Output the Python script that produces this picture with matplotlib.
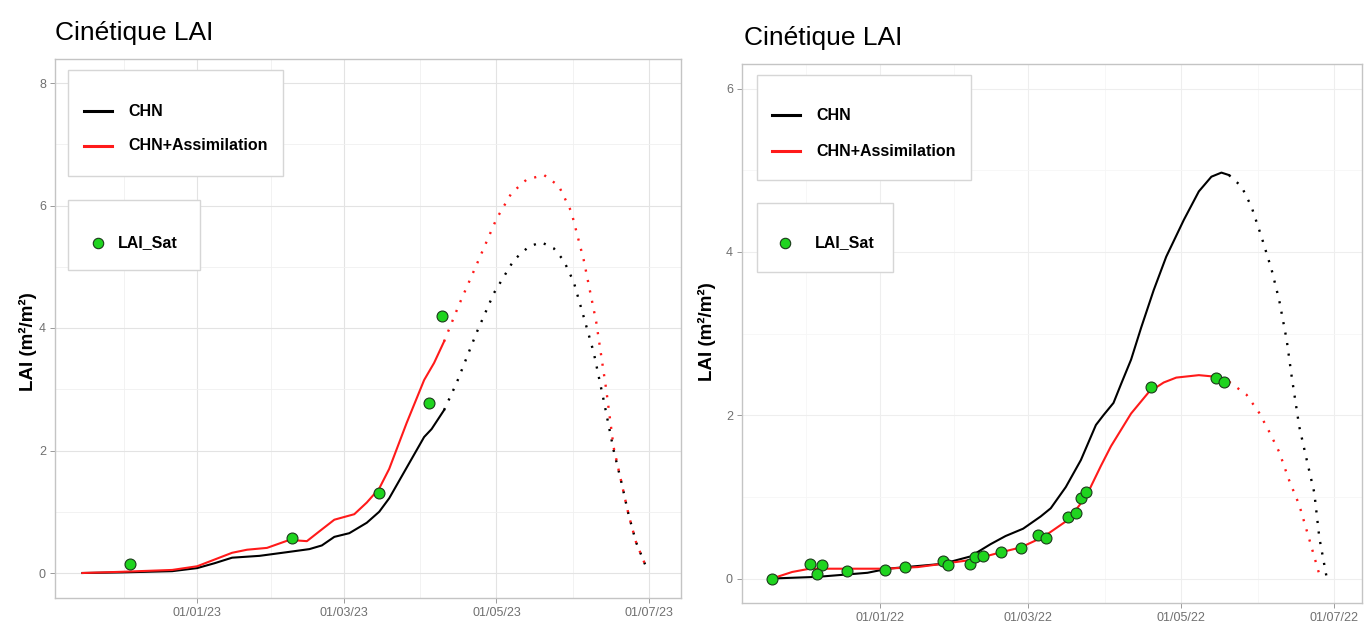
import matplotlib
matplotlib.use("Agg")
import matplotlib.pyplot as plt
from matplotlib.patches import Rectangle
from matplotlib.lines import Line2D
import pandas as pd

plt.rcParams['font.family'] = ['Liberation Sans', 'DejaVu Sans']

# ---------------- 2022-2023 season ----------------
chn_23_dates = ["2022-11-16", "2022-12-02", "2022-12-22", "2023-01-01", "2023-01-08",
                "2023-01-15", "2023-01-26", "2023-02-06", "2023-02-15", "2023-02-20",
                "2023-02-25", "2023-03-03", "2023-03-10", "2023-03-15", "2023-03-19",
                "2023-03-26", "2023-04-02", "2023-04-05", "2023-04-10"]
chn_23_vals = [0.00, 0.01, 0.03, 0.08, 0.16, 0.25, 0.28, 0.34, 0.39, 0.45,
               0.59, 0.65, 0.82, 1.00, 1.22, 1.72, 2.22, 2.35, 2.66]

chn_23_fc_dates = ["2023-04-10", "2023-04-15", "2023-04-23", "2023-04-30", "2023-05-08",
                   "2023-05-14", "2023-05-19", "2023-05-24", "2023-05-28", "2023-06-01",
                   "2023-06-05", "2023-06-09", "2023-06-13", "2023-06-17", "2023-06-20",
                   "2023-06-23", "2023-06-26", "2023-06-30"]
chn_23_fc_vals = [2.66, 3.10, 3.92, 4.57, 5.11, 5.33, 5.40, 5.30, 5.10, 4.75,
                  4.18, 3.60, 2.82, 2.00, 1.50, 0.95, 0.50, 0.10]

ass_23_dates = ["2022-11-16", "2022-12-02", "2022-12-22", "2023-01-01", "2023-01-08",
                "2023-01-15", "2023-01-21", "2023-01-29", "2023-02-07", "2023-02-14",
                "2023-02-19", "2023-02-25", "2023-03-05", "2023-03-10", "2023-03-15",
                "2023-03-19", "2023-03-26", "2023-04-02", "2023-04-06", "2023-04-10"]
ass_23_vals = [0.00, 0.02, 0.05, 0.11, 0.22, 0.33, 0.38, 0.41, 0.54, 0.52,
               0.68, 0.87, 0.96, 1.15, 1.38, 1.70, 2.45, 3.15, 3.43, 3.78]

ass_23_fc_dates = ["2023-04-10", "2023-04-16", "2023-04-23", "2023-05-01", "2023-05-07",
                   "2023-05-13", "2023-05-20", "2023-05-26", "2023-05-31", "2023-06-05",
                   "2023-06-10", "2023-06-14", "2023-06-17", "2023-06-20", "2023-06-23",
                   "2023-06-26", "2023-06-30"]
ass_23_fc_vals = [3.78, 4.38, 5.03, 5.78, 6.20, 6.42, 6.50, 6.32, 5.90, 5.11,
                  4.10, 3.00, 2.05, 1.50, 0.95, 0.50, 0.10]

sat_23_dates = ["2022-12-05", "2023-02-08", "2023-03-15", "2023-04-04", "2023-04-09"]
sat_23_vals = [0.14, 0.57, 1.30, 2.78, 4.20]

ticks_23 = ["2023-01-01", "2023-03-01", "2023-05-01", "2023-07-01"]
labels_23 = ["01/01/23", "01/03/23", "01/05/23", "01/07/23"]

# ---------------- 2021-2022 season ----------------
chn_22_dates = ["2021-11-19", "2021-12-07", "2021-12-27", "2022-01-04", "2022-01-26",
                "2022-02-06", "2022-02-14", "2022-02-20", "2022-02-27", "2022-03-06",
                "2022-03-10", "2022-03-16", "2022-03-22", "2022-03-28", "2022-03-31",
                "2022-04-04", "2022-04-07", "2022-04-11", "2022-04-15", "2022-04-20",
                "2022-04-25", "2022-05-02", "2022-05-08", "2022-05-13", "2022-05-17",
                "2022-05-20"]
chn_22_vals = [0.00, 0.02, 0.07, 0.12, 0.18, 0.27, 0.42, 0.52, 0.61, 0.76,
               0.86, 1.12, 1.45, 1.88, 2.00, 2.15, 2.38, 2.68, 3.07, 3.53,
               3.94, 4.39, 4.74, 4.92, 4.97, 4.94]

chn_22_fc_dates = ["2022-05-20", "2022-05-25", "2022-05-29", "2022-06-02", "2022-06-06",
                   "2022-06-09", "2022-06-12", "2022-06-14", "2022-06-17", "2022-06-20",
                   "2022-06-23", "2022-06-25", "2022-06-28"]
chn_22_fc_vals = [4.94, 4.80, 4.55, 4.18, 3.78, 3.41, 2.92, 2.47, 1.86, 1.45,
                  1.05, 0.50, 0.00]

ass_22_dates = ["2021-11-19", "2021-11-27", "2021-12-04", "2021-12-19", "2022-01-03",
                "2022-01-16", "2022-01-26", "2022-02-07", "2022-02-18", "2022-02-26",
                "2022-03-05", "2022-03-09", "2022-03-17", "2022-03-24", "2022-03-30",
                "2022-04-03", "2022-04-11", "2022-04-18", "2022-04-24", "2022-04-29",
                "2022-05-08", "2022-05-15", "2022-05-20"]
ass_22_vals = [0.00, 0.08, 0.12, 0.12, 0.12, 0.14, 0.18, 0.23, 0.32, 0.38,
               0.48, 0.55, 0.72, 1.00, 1.38, 1.62, 2.02, 2.28, 2.40, 2.46,
               2.49, 2.47, 2.41]

ass_22_fc_dates = ["2022-05-20", "2022-05-27", "2022-06-01", "2022-06-05", "2022-06-09",
                   "2022-06-13", "2022-06-17", "2022-06-21", "2022-06-25"]
ass_22_fc_vals = [2.41, 2.25, 2.03, 1.80, 1.55, 1.20, 0.90, 0.48, 0.05]

sat_22_dates = ["2021-11-19", "2021-12-04", "2021-12-09", "2021-12-07", "2021-12-19",
                "2022-01-03", "2022-01-11", "2022-01-26", "2022-01-28", "2022-02-06",
                "2022-02-08", "2022-02-11", "2022-02-18", "2022-02-26", "2022-03-05",
                "2022-03-08", "2022-03-17", "2022-03-20", "2022-03-22", "2022-03-24",
                "2022-04-19", "2022-05-15", "2022-05-18"]
sat_22_vals = [0.00, 0.18, 0.17, 0.05, 0.09, 0.11, 0.14, 0.21, 0.16, 0.18,
               0.26, 0.27, 0.33, 0.37, 0.53, 0.49, 0.75, 0.80, 0.98, 1.06,
               2.35, 2.46, 2.41]

ticks_22 = ["2022-01-01", "2022-03-01", "2022-05-01", "2022-07-01"]
labels_22 = ["01/01/22", "01/03/22", "01/05/22", "01/07/22"]

TITLE = "Cinétique LAI"
YLABEL = "LAI (m²/m²)"
SERIES_NAMES = ["CHN", "CHN+Assimilation"]
SAT_NAME = "LAI_Sat"

# ---------------- layout / style ----------------
W, H = 1365, 631
fig = plt.figure(figsize=(W / 100, H / 100), dpi=100)


def fx(px):
    return px / W


def fy(py):
    return 1 - py / H


RED = "#ff1a1a"
GREEN = "#1fd41f"
BORDER = "#c4c4c4"
TICKTXT = "#707070"
DOT = (0, (0.9, 3.6))


def d(lst):
    return pd.to_datetime(lst)


def panel(box, xlim, ylim, yticks, tick_dates, tick_labels,
          chn, chn_fc, ass, ass_fc, sat, grid_major, grid_minor):
    left, top, right, bottom = box
    ax = fig.add_axes([fx(left), fy(bottom), fx(right) - fx(left), fy(top) - fy(bottom)])
    ax.set_xlim(pd.Timestamp(xlim[0]), pd.Timestamp(xlim[1]))
    ax.set_ylim(*ylim)

    # grid: major on ticks, minor halfway between them
    majors = d(tick_dates)
    step = majors[1] - majors[0]
    ext = [majors[0] - step] + list(majors)
    minors = [ext[i] + (ext[i + 1] - ext[i]) / 2 for i in range(len(ext) - 1)]
    for m in minors:
        ax.axvline(m, color=grid_minor, lw=0.6, zorder=0)
    for m in majors:
        ax.axvline(m, color=grid_major, lw=0.8, zorder=0)
    for i in range(len(yticks) - 1):
        ax.axhline((yticks[i] + yticks[i + 1]) / 2, color=grid_minor, lw=0.6, zorder=0)
    for yv in yticks:
        ax.axhline(yv, color=grid_major, lw=0.8, zorder=0)

    ax.set_xticks(majors)
    ax.set_xticklabels(tick_labels)
    ax.set_yticks(yticks)
    ax.set_yticklabels([str(v) for v in yticks])
    ax.tick_params(axis="both", length=3.5, width=0.7, color="#9a9a9a",
                   labelsize=9, labelcolor=TICKTXT, pad=3)
    for sp in ax.spines.values():
        sp.set_color(BORDER)
        sp.set_linewidth(1.0)

    ax.plot(d(chn_fc[0]), chn_fc[1], color="black", lw=1.7, ls=DOT, zorder=3)
    ax.plot(d(ass_fc[0]), ass_fc[1], color=RED, lw=1.7, ls=DOT, zorder=3)
    ax.plot(d(chn[0]), chn[1], color="black", lw=1.5, zorder=4,
            solid_joinstyle="round")
    ax.plot(d(ass[0]), ass[1], color=RED, lw=1.5, zorder=4,
            solid_joinstyle="round")
    ax.scatter(d(sat[0]), sat[1], s=62, color=GREEN, edgecolor="#1a3a1a",
               linewidth=0.8, zorder=5)
    return ax


def legend_boxes(b1, b2, line_x, text_x, rows_y, dot_xy, sat_text_x):
    for (x0, y0, x1, y1) in (b1, b2):
        fig.patches.append(Rectangle((fx(x0), fy(y1)), fx(x1) - fx(x0), fy(y0) - fy(y1),
                                     transform=fig.transFigure, facecolor="white",
                                     edgecolor="#d6d6d6", lw=1.0, zorder=6))
    for name, col, yy in zip(SERIES_NAMES, ["black", RED], rows_y):
        fig.lines.append(Line2D([fx(line_x[0]), fx(line_x[1])], [fy(yy), fy(yy)],
                                transform=fig.transFigure, color=col, lw=2.2, zorder=7))
        fig.text(fx(text_x), fy(yy), name, fontsize=11.5, fontweight="bold",
                 va="center", ha="left", zorder=7)
    fig.lines.append(Line2D([fx(dot_xy[0])], [fy(dot_xy[1])], transform=fig.transFigure,
                            marker="o", ms=7.5, mfc=GREEN, mec="#1a3a1a", mew=0.8,
                            ls="none", zorder=7))
    fig.text(fx(sat_text_x), fy(dot_xy[1]), SAT_NAME, fontsize=11.5, fontweight="bold",
             va="center", ha="left", zorder=7)


# left panel: 2022-2023
panel((55, 58.5, 681, 597.5), ("2022-11-05", "2023-07-14"), (-0.4, 8.4), [0, 2, 4, 6, 8],
      ticks_23, labels_23,
      (chn_23_dates, chn_23_vals), (chn_23_fc_dates, chn_23_fc_vals),
      (ass_23_dates, ass_23_vals), (ass_23_fc_dates, ass_23_fc_vals),
      (sat_23_dates, sat_23_vals), "#e3e3e3", "#f0f0f0")
fig.text(fx(55), fy(33), TITLE, fontsize=19, va="center", ha="left")
fig.text(fx(28), fy(342), YLABEL, fontsize=13.5, fontweight="bold", rotation=90,
         va="center", ha="center")
legend_boxes((68, 70, 283, 176), (68, 200, 200, 270), (84, 112), 128, (111, 146),
             (98, 243), 118)

# right panel: 2021-2022
panel((742, 64, 1362, 603), ("2021-11-07", "2022-07-12"), (-0.3, 6.3), [0, 2, 4, 6],
      ticks_22, labels_22,
      (chn_22_dates, chn_22_vals), (chn_22_fc_dates, chn_22_fc_vals),
      (ass_22_dates, ass_22_vals), (ass_22_fc_dates, ass_22_fc_vals),
      (sat_22_dates, sat_22_vals), "#eeeeee", "#f6f6f6")
fig.text(fx(744), fy(38), TITLE, fontsize=19, va="center", ha="left")
fig.text(fx(707), fy(332), YLABEL, fontsize=13.5, fontweight="bold", rotation=90,
         va="center", ha="center")
legend_boxes((757, 75, 971, 180), (757, 203, 893, 272), (772, 800), 816, (115, 151),
             (785, 243), 815)

fig.savefig("out.png", dpi=100, facecolor="white")
